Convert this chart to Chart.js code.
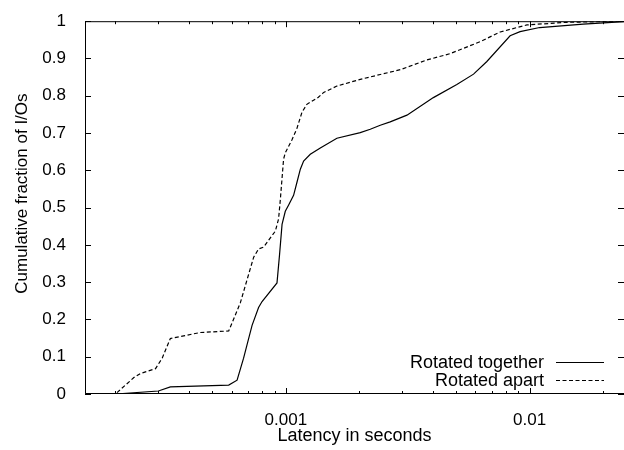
<!DOCTYPE html>
<html>
<head>
<meta charset="utf-8">
<script src="https://cdn.jsdelivr.net/npm/chart.js@4/dist/chart.umd.min.js"></script>
<style>
  html, body { margin: 0; padding: 0; background: #fff; }
</style>
</head>
<body>
<canvas id="cdfChart" width="624" height="450"></canvas>
<script>
/* Donnees (latence en secondes, fraction cumulee) */
const togetherLatency = [1.5e-4, 2.0e-4, 3.0e-4, 3.36e-4, 5.83e-4, 6.31e-4, 6.71e-4, 6.93e-4, 7.27e-4, 7.73e-4,
    7.99e-4, 9.2e-4, 9.43e-4, 9.65e-4, 9.95e-4, 1.027e-3, 1.076e-3, 1.111e-3, 1.147e-3, 1.183e-3,
    1.26e-3, 1.385e-3, 1.62e-3, 2.02e-3, 2.22e-3, 2.44e-3, 2.68e-3, 3.14e-3, 4.03e-3, 5.03e-3, 5.89e-3,
    6.68e-3, 8.32e-3, 9.14e-3, 1.10e-2, 1.66e-2, 2.44e-2];
const togetherFraction = [0, 0, 0.008, 0.019, 0.024, 0.037, 0.096, 0.132, 0.184, 0.232,
    0.248, 0.298, 0.376, 0.455, 0.49, 0.507, 0.533, 0.568, 0.603, 0.625,
    0.643, 0.66, 0.686, 0.701, 0.71, 0.721, 0.73, 0.748, 0.795, 0.83, 0.858,
    0.892, 0.961, 0.972, 0.983, 0.992, 0.999];

const apartLatency = [1.5e-4, 2.0e-4, 2.38e-4, 2.53e-4, 2.92e-4, 3.11e-4, 3.36e-4, 3.81e-4, 4.46e-4, 5.83e-4,
    6.11e-4, 6.51e-4, 6.93e-4, 7.38e-4, 7.73e-4, 8.11e-4, 9.06e-4, 9.34e-4, 9.49e-4, 9.79e-4,
    9.95e-4, 1.06e-3, 1.11e-3, 1.165e-3, 1.22e-3, 1.36e-3, 1.43e-3, 1.62e-3, 2.02e-3, 2.44e-3,
    2.95e-3, 3.79e-3, 4.72e-3, 6.27e-3, 7.57e-3, 9.75e-3, 1.42e-2, 2.44e-2];
const apartFraction = [0, 0, 0.044, 0.055, 0.068, 0.096, 0.149, 0.156, 0.165, 0.169,
    0.201, 0.245, 0.306, 0.367, 0.389, 0.394, 0.437, 0.47, 0.52, 0.63,
    0.647, 0.682, 0.712, 0.756, 0.777, 0.796, 0.809, 0.826, 0.844, 0.857,
    0.87, 0.896, 0.913, 0.945, 0.971, 0.99, 0.997, 1.0];

const seriesLabels = ['Rotated together', 'Rotated apart'];
const xTickValues = [2e-4, 3e-4, 4e-4, 5e-4, 6e-4, 7e-4, 8e-4, 9e-4, 1e-3,
    2e-3, 3e-3, 4e-3, 5e-3, 6e-3, 7e-3, 8e-3, 9e-3, 1e-2, 2e-2];
const xTickLabels = { '0.001': '0.001', '0.01': '0.01' };
const yTickValues = [0, 0.1, 0.2, 0.3, 0.4, 0.5, 0.6, 0.7, 0.8, 0.9, 1];
const yTitle = 'Cumulative fraction of I/Os';

const FONT = '"Liberation Sans", Arial, Helvetica, sans-serif';

function isDecade(v) {
    const l = Math.log10(v);
    return Math.abs(l - Math.round(l)) < 1e-9;
}

// Cadre + graduations vers l'interieur (style gnuplot)
const frameTicks = {
    id: 'frameTicks',
    afterDatasetsDraw(chart) {
        const { ctx, chartArea: a, scales } = chart;
        ctx.save();
        ctx.strokeStyle = '#000';
        ctx.lineWidth = 1;
        ctx.beginPath();
        ctx.rect(a.left + 0.5, a.top + 0.5, a.right - a.left, a.bottom - a.top - 1);
        xTickValues.forEach(v => {
            const px = Math.round(scales.x.getPixelForValue(v)) + 0.5;
            const len = isDecade(v) ? 6 : 3;
            ctx.moveTo(px, a.bottom); ctx.lineTo(px, a.bottom - len);
            ctx.moveTo(px, a.top); ctx.lineTo(px, a.top + len);
        });
        yTickValues.forEach(v => {
            const py = Math.round(scales.y.getPixelForValue(v)) + 0.5;
            ctx.moveTo(a.left, py); ctx.lineTo(a.left + 6, py);
            ctx.moveTo(a.right, py); ctx.lineTo(a.right - 6, py);
        });
        ctx.stroke();
        ctx.restore();
    }
};

// Titre vertical (un peu au-dessus du centre, comme gnuplot)
const yTitlePlugin = {
    id: 'yTitlePlugin',
    afterDraw(chart) {
        const { ctx, chartArea: a } = chart;
        ctx.save();
        ctx.font = '17px ' + FONT;
        ctx.fillStyle = '#000';
        ctx.textAlign = 'center';
        ctx.textBaseline = 'middle';
        ctx.translate(22, (a.top + a.bottom) / 2 - 14);
        ctx.rotate(-Math.PI / 2);
        ctx.fillText(yTitle, 0, 0);
        ctx.restore();
    }
};

// Legende en bas a droite : texte puis echantillon de trait
const sideLegend = {
    id: 'sideLegend',
    afterDraw(chart) {
        const { ctx, chartArea: a } = chart;
        ctx.save();
        ctx.font = '18px ' + FONT;
        ctx.fillStyle = '#000';
        ctx.textAlign = 'right';
        ctx.textBaseline = 'middle';
        chart.data.datasets.forEach((ds, i) => {
            const y = a.bottom - 32 + i * 17.6;
            ctx.fillText(ds.label, a.right - 80, y + 1);
            ctx.beginPath();
            ctx.lineWidth = ds.borderWidth;
            ctx.strokeStyle = ds.borderColor;
            ctx.setLineDash(ds.borderDash || []);
            ctx.moveTo(a.right - 68, Math.round(y) + 0.5);
            ctx.lineTo(a.right - 20, Math.round(y) + 0.5);
            ctx.stroke();
        });
        ctx.restore();
    }
};

new Chart(document.getElementById('cdfChart'), {
    type: 'line',
    data: {
        datasets: [
            {
                label: seriesLabels[0],
                data: togetherLatency.map((x, i) => ({ x: x, y: togetherFraction[i] })),
                borderColor: '#000',
                borderWidth: 1.2,
                pointRadius: 0,
                tension: 0,
                fill: false
            },
            {
                label: seriesLabels[1],
                data: apartLatency.map((x, i) => ({ x: x, y: apartFraction[i] })),
                borderColor: '#000',
                borderWidth: 1.2,
                borderDash: [4, 2.5],
                pointRadius: 0,
                tension: 0,
                fill: false
            }
        ]
    },
    options: {
        responsive: false,
        animation: false,
        devicePixelRatio: 1,
        layout: { padding: { top: 12, right: 0, bottom: 0, left: 0 } },
        plugins: {
            legend: { display: false },
            tooltip: { enabled: false }
        },
        scales: {
            x: {
                type: 'logarithmic',
                min: 1.5e-4,
                max: 2.44e-2,
                grid: { display: false },
                border: { display: false },
                afterBuildTicks: (scale) => {
                    scale.ticks = xTickValues.map(v => ({ value: v }));
                },
                afterFit: (scale) => { scale.height = 56; },
                ticks: {
                    autoSkip: false,
                    maxRotation: 0,
                    padding: 8,
                    color: '#000',
                    font: { family: FONT, size: 17 },
                    callback: (v) => xTickLabels[String(+v.toPrecision(3))] || ''
                },
                title: {
                    display: true,
                    text: 'Latency in seconds',
                    color: '#000',
                    font: { family: FONT, size: 18 },
                    padding: { top: 0, bottom: 3 }
                }
            },
            y: {
                min: 0,
                max: 1,
                grid: { display: false },
                border: { display: false },
                afterBuildTicks: (scale) => {
                    scale.ticks = yTickValues.map(v => ({ value: v }));
                },
                afterFit: (scale) => { scale.width = 85; },
                ticks: {
                    padding: 11,
                    color: '#000',
                    font: { family: FONT, size: 17 },
                    callback: (v) => String(Math.round(v * 10) / 10)
                },
                title: { display: false }
            }
        }
    },
    plugins: [frameTicks, yTitlePlugin, sideLegend]
});
</script>
</body>
</html>
